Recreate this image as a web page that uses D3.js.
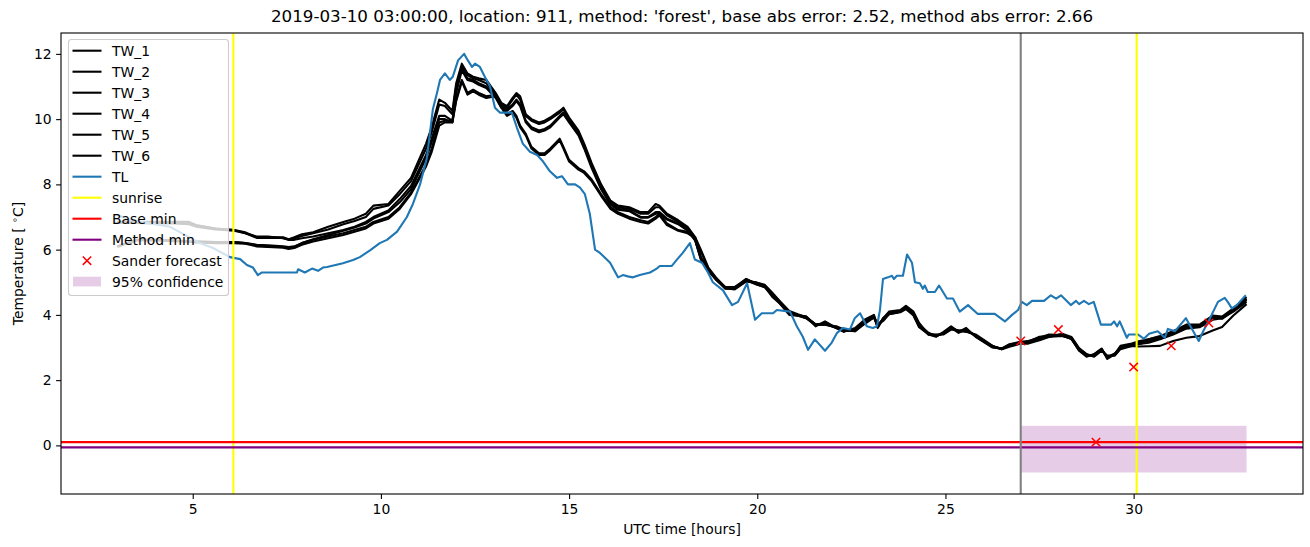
<!DOCTYPE html>
<html><head><meta charset="utf-8">
<script src="https://cdn.jsdelivr.net/npm/d3@7"></script>
<style>body{margin:0;background:#fff} svg text{font-family:"DejaVu Sans",sans-serif;fill:#000}</style>
</head><body><svg id="c" width="1310" height="547"></svg>
<script>
const titleText = "2019-03-10 03:00:00, location: 911, method: 'forest', base abs error: 2.52, method abs error: 2.66";
const xTicks = [5, 10, 15, 20, 25, 30];
const yTicks = [0, 2, 4, 6, 8, 10, 12];

const tlHours = [3.0,3.6,4.4,5.19,5.54,5.99,6.26,6.44,6.6,6.73,6.84,7.77,7.8,7.98,8.17,8.33,8.46,8.57,8.99,9.26,9.44,9.71,9.97,10.16,10.43,10.69,10.85,11.04,11.22,11.38,11.49,11.57,11.7,11.83,11.91,12.05,12.21,12.31,12.42,12.5,12.63,12.76,12.9,13.03,13.16,13.48,13.61,13.77,13.96,14.15,14.31,14.49,14.68,14.81,14.97,15.16,15.29,15.42,15.55,15.69,15.82,16.09,16.3,16.43,16.56,16.7,16.88,17.15,17.33,17.41,17.73,17.87,18.02,18.21,18.34,18.53,18.69,18.82,19.09,19.33,19.49,19.73,19.94,20.12,20.42,20.52,20.87,21.05,21.21,21.35,21.53,21.8,21.98,22.12,22.28,22.46,22.59,22.73,22.91,23.07,23.18,23.26,23.34,23.47,23.58,23.63,23.71,23.87,23.98,24.11,24.19,24.32,24.4,24.45,24.53,24.72,24.83,25.04,25.2,25.38,25.6,25.86,26.31,26.58,26.77,26.93,27.03,27.16,27.3,27.62,27.8,27.94,28.07,28.33,28.47,28.55,28.68,28.81,28.94,29.13,29.4,29.48,29.56,29.63,29.82,29.87,30.11,30.27,30.41,30.64,30.83,30.91,31.1,31.39,31.55,31.73,31.84,32.03,32.24,32.42,32.5,32.61,32.74,32.98];
const tlValues = [7.05,6.85,6.7,6.2,6.05,5.77,5.71,5.53,5.45,5.22,5.3,5.3,5.4,5.3,5.42,5.35,5.45,5.47,5.58,5.68,5.77,5.98,6.2,6.3,6.55,7.0,7.4,8.0,8.8,10.3,10.8,11.2,11.4,11.2,11.3,11.8,12.0,11.8,11.6,11.7,11.6,11.3,11.0,10.35,10.2,10.2,9.75,9.25,9.0,8.9,8.7,8.4,8.2,8.25,8.0,8.0,7.9,7.7,7.1,6.0,5.9,5.6,5.15,5.22,5.18,5.15,5.22,5.3,5.42,5.5,5.5,5.7,5.9,6.2,5.7,5.6,5.3,5.0,4.75,4.3,4.4,4.97,3.85,4.05,4.05,4.15,4.1,3.65,3.33,2.93,3.25,2.9,3.15,3.45,3.6,3.55,3.9,4.05,3.65,3.6,3.65,4.15,5.1,5.15,5.2,5.1,5.2,5.2,5.85,5.6,5.0,4.97,4.8,4.9,4.7,4.7,4.9,4.5,4.5,4.1,4.3,4.03,4.03,3.8,4.0,4.15,4.4,4.3,4.43,4.43,4.6,4.5,4.6,4.3,4.43,4.33,4.43,4.33,4.4,3.7,3.7,3.8,3.65,3.8,3.3,3.4,3.4,3.27,3.42,3.5,3.3,3.57,3.5,3.9,3.57,3.2,3.48,3.9,4.4,4.52,4.4,4.2,4.3,4.6];

const twHours = [3.0,3.5,4.0,4.5,4.9,5.1,5.6,6.1,6.4,6.7,7.0,7.4,7.55,7.7,7.9,8.2,8.6,9.0,9.3,9.6,9.8,10.2,10.5,10.8,11.2,11.35,11.55,11.7,11.9,12.0,12.15,12.3,12.45,12.6,12.8,13.05,13.2,13.35,13.5,13.6,13.7,13.85,14.0,14.2,14.35,14.5,14.75,14.85,15.0,15.25,15.4,15.6,15.85,16.1,16.3,16.6,16.9,17.1,17.3,17.4,17.6,17.9,18.15,18.35,18.5,18.7,18.9,19.15,19.4,19.7,19.95,20.2,20.4,20.6,20.85,21.3,21.55,21.8,22.1,22.3,22.6,22.85,23.1,23.2,23.35,23.5,23.8,23.95,24.15,24.3,24.55,24.75,24.95,25.15,25.35,25.55,25.8,26.0,26.25,26.5,26.7,27.0,27.2,27.5,27.75,28.1,28.35,28.55,28.75,28.95,29.15,29.3,29.5,29.65,29.95,30.1,30.4,30.7,31.05,31.4,31.75,32.1,32.35,32.65,33.0];
const tw1 = [6.85,6.85,6.85,6.85,6.85,6.75,6.65,6.6,6.53,6.38,6.38,6.38,6.32,6.38,6.47,6.53,6.7,6.85,6.95,7.1,7.35,7.4,7.8,8.2,9.25,9.75,10.6,10.5,10.25,11.1,11.7,11.4,11.3,11.25,11.2,10.8,10.5,10.4,10.65,10.8,10.7,10.15,10.0,9.9,9.95,10.05,10.25,10.35,10.05,9.65,9.25,8.65,8.0,7.5,7.35,7.3,7.15,7.15,7.4,7.35,7.1,6.9,6.7,6.38,5.77,5.4,5.13,4.83,4.85,5.1,4.97,4.86,4.55,4.35,4.0,3.95,3.65,3.8,3.6,3.48,3.6,3.85,4.0,3.6,3.9,4.1,4.15,4.28,4.1,3.75,3.4,3.33,3.48,3.65,3.48,3.6,3.33,3.18,3.0,2.97,3.1,3.18,3.18,3.33,3.36,3.36,3.27,2.9,2.72,2.8,2.97,2.65,2.8,3.05,3.12,3.18,3.25,3.33,3.48,3.65,3.65,3.95,3.88,4.12,4.48];
const tw2 = [6.85,6.85,6.82,6.82,6.8,6.75,6.65,6.6,6.5,6.4,6.4,6.35,6.3,6.35,6.42,6.5,6.62,6.78,6.88,7.0,7.25,7.35,7.7,8.1,9.1,9.6,10.45,10.4,10.15,11.0,11.6,11.35,11.25,11.2,11.1,10.75,10.45,10.35,10.6,10.75,10.6,10.1,9.95,9.85,9.9,10.0,10.2,10.3,10.0,9.6,9.2,8.6,7.95,7.45,7.3,7.25,7.1,7.1,7.3,7.3,7.05,6.85,6.65,6.3,5.75,5.38,5.1,4.85,4.85,5.05,4.95,4.85,4.6,4.35,4.05,3.95,3.7,3.75,3.6,3.5,3.55,3.8,3.95,3.65,3.9,4.05,4.1,4.22,4.05,3.7,3.45,3.35,3.45,3.6,3.45,3.55,3.35,3.2,3.02,2.95,3.08,3.15,3.2,3.3,3.4,3.38,3.25,2.92,2.75,2.78,2.95,2.7,2.82,3.0,3.1,3.15,3.25,3.35,3.5,3.7,3.7,3.98,3.95,4.2,4.55];
const tw3 = [6.82,6.82,6.8,6.8,6.78,6.7,6.62,6.58,6.5,6.36,6.36,6.36,6.3,6.3,6.35,6.4,6.5,6.6,6.7,6.85,7.0,7.2,7.55,7.95,8.9,9.4,10.1,10.1,9.95,10.9,11.55,11.25,11.2,11.1,11.0,10.7,10.4,10.3,10.45,10.6,10.45,9.95,9.75,9.65,9.7,9.8,10.1,10.2,9.95,9.55,9.15,8.55,7.9,7.4,7.25,7.2,7.0,7.0,7.15,7.15,6.95,6.8,6.6,6.3,5.72,5.35,5.1,4.8,4.8,5.05,5.0,4.9,4.65,4.4,4.1,3.9,3.7,3.72,3.62,3.52,3.5,3.75,3.95,3.7,3.85,4.05,4.1,4.2,4.0,3.65,3.42,3.38,3.42,3.58,3.5,3.5,3.38,3.22,3.05,2.95,3.05,3.15,3.15,3.25,3.35,3.4,3.3,2.95,2.78,2.75,2.92,2.72,2.78,2.98,3.08,3.12,3.2,3.3,3.45,3.62,3.68,3.9,3.9,4.15,4.45];
const tw4 = [6.1,6.3,6.3,6.28,6.25,6.25,6.23,6.23,6.2,6.15,6.13,6.1,6.08,6.1,6.2,6.32,6.45,6.58,6.68,6.8,6.95,7.15,7.45,7.85,8.8,9.3,10.0,10.0,9.9,10.8,11.5,11.2,11.15,11.05,10.95,10.65,10.35,10.25,10.4,10.55,10.4,9.9,9.7,9.6,9.65,9.75,10.05,10.15,9.9,9.5,9.1,8.5,7.85,7.38,7.22,7.18,6.98,6.98,7.1,7.12,6.92,6.78,6.58,6.28,5.7,5.35,5.08,4.82,4.78,5.02,5.0,4.92,4.68,4.42,4.12,3.92,3.72,3.7,3.65,3.55,3.5,3.72,3.92,3.72,3.82,4.02,4.08,4.18,3.98,3.62,3.4,3.4,3.4,3.55,3.52,3.48,3.4,3.25,3.05,2.95,3.02,3.12,3.12,3.22,3.32,3.42,3.32,2.98,2.8,2.72,2.9,2.75,2.75,2.95,3.05,3.1,3.18,3.28,3.42,3.6,3.66,3.88,3.92,4.18,4.5];
const tw5 = [6.08,6.3,6.3,6.28,6.25,6.25,6.23,6.23,6.2,6.13,6.1,6.08,6.05,6.08,6.2,6.3,6.4,6.5,6.6,6.7,6.85,7.0,7.3,7.75,8.6,9.1,9.9,9.95,9.95,10.6,11.2,10.8,10.9,10.8,10.7,10.75,10.4,10.15,10.25,10.1,9.8,9.55,9.15,8.95,8.95,9.1,9.4,9.15,8.75,8.5,8.4,8.15,7.7,7.3,7.15,7.0,6.9,6.85,7.0,7.1,6.8,6.6,6.55,6.38,6.0,5.45,5.15,4.85,4.8,5.1,4.95,4.85,4.6,4.38,4.05,3.9,3.68,3.72,3.6,3.5,3.55,3.8,3.95,3.62,3.9,4.05,4.12,4.22,4.05,3.7,3.42,3.35,3.45,3.6,3.5,3.55,3.35,3.2,3.02,2.97,3.08,3.15,3.18,3.3,3.35,3.35,3.28,2.92,2.75,2.78,2.95,2.68,2.8,3.0,3.05,3.03,3.04,3.05,3.2,3.3,3.35,3.52,3.63,3.98,4.33];
const tw6 = [6.1,6.28,6.28,6.26,6.24,6.22,6.2,6.2,6.18,6.1,6.08,6.06,6.02,6.05,6.15,6.25,6.35,6.45,6.55,6.65,6.8,6.95,7.25,7.7,8.55,9.0,9.8,9.9,9.9,10.55,11.15,10.75,10.85,10.75,10.65,10.7,10.35,10.1,10.2,10.05,9.75,9.5,9.1,8.9,8.9,9.05,9.35,9.1,8.7,8.45,8.35,8.1,7.65,7.25,7.1,6.95,6.85,6.8,6.95,7.05,6.75,6.58,6.5,6.35,5.95,5.42,5.12,4.82,4.82,5.08,4.98,4.88,4.62,4.4,4.08,3.92,3.7,3.7,3.62,3.52,3.52,3.78,3.92,3.65,3.88,4.02,4.1,4.2,4.02,3.68,3.4,3.36,3.42,3.58,3.52,3.52,3.38,3.22,3.04,2.96,3.06,3.14,3.16,3.28,3.33,3.36,3.3,2.95,2.78,2.76,2.93,2.7,2.78,2.98,3.08,3.1,3.15,3.25,3.4,3.58,3.62,3.85,3.9,4.1,4.4];

const sanderHours = [27, 28, 29, 30, 31, 32];
const sanderValues = [3.2, 3.55, 0.1, 2.4, 3.05, 3.75];
const sunriseHours = [6.08, 30.08];
const baseMin = 0.1;
const methodMin = -0.06;
const forecastStart = 27;
const confStart = 27, confEnd = 33, confLow = -0.83, confHigh = 0.6;
const legendLabels = ["TW_1","TW_2","TW_3","TW_4","TW_5","TW_6","TL","sunrise","Base min","Method min","Sander forecast","95% confidence"];

const svg = d3.select("#c");
const L = 61, R = 1303, T = 33, B = 494;
const x = d3.scaleLinear().domain([1.5, 34.5]).range([L, R]);
const y = d3.scaleLinear().domain([-1.49, 12.64]).range([B, T]);

svg.append("defs").append("clipPath").attr("id","clip").append("rect")
  .attr("x", L).attr("y", T).attr("width", R-L).attr("height", B-T);
const plot = svg.append("g").attr("clip-path","url(#clip)");

// confidence band
plot.append("rect").attr("x", x(confStart)).attr("width", x(confEnd)-x(confStart))
  .attr("y", y(confHigh)).attr("height", y(confLow)-y(confHigh))
  .attr("fill","purple").attr("fill-opacity",0.2);

const line = d3.line().x(d=>x(d[0])).y(d=>y(d[1]));
[tw1,tw2,tw3,tw4,tw5,tw6].forEach(vals=>{
  plot.append("path").datum(twHours.map((h,i)=>[h, vals[i]])).attr("d", line)
    .attr("fill","none").attr("stroke","black").attr("stroke-width",2.1).attr("stroke-linejoin","round");
});
plot.append("path").datum(tlHours.map((h,i)=>[h, tlValues[i]])).attr("d", line)
  .attr("fill","none").attr("stroke","#1f77b4").attr("stroke-width",2.1).attr("stroke-linejoin","round");

sunriseHours.forEach(h=>{
  plot.append("line").attr("x1",x(h)).attr("x2",x(h)).attr("y1",T).attr("y2",B)
    .attr("stroke","yellow").attr("stroke-width",2.1);
});
plot.append("line").attr("x1",L).attr("x2",R).attr("y1",y(baseMin)).attr("y2",y(baseMin)).attr("stroke","red").attr("stroke-width",2.1);
plot.append("line").attr("x1",L).attr("x2",R).attr("y1",y(methodMin)).attr("y2",y(methodMin)).attr("stroke","purple").attr("stroke-width",2.1);
plot.append("line").attr("x1",x(forecastStart)).attr("x2",x(forecastStart)).attr("y1",T).attr("y2",B).attr("stroke","gray").attr("stroke-width",2.1);

const xMark = "M-4.2,-4.2L4.2,4.2M4.2,-4.2L-4.2,4.2";
plot.selectAll(".sf").data(sanderHours).enter().append("path")
  .attr("transform",(h,i)=>`translate(${x(h)},${y(sanderValues[i])})`)
  .attr("d", xMark).attr("stroke","red").attr("stroke-width",1.5).attr("fill","none");

// axes
const xAxis = svg.append("g").attr("transform",`translate(0,${B})`)
  .call(d3.axisBottom(x).tickValues(xTicks).tickSize(4.9).tickPadding(5.5).tickFormat(d3.format("d")));
const yAxis = svg.append("g").attr("transform",`translate(${L},0)`)
  .call(d3.axisLeft(y).tickValues(yTicks).tickSize(4.9).tickPadding(4.5).tickFormat(d3.format("d")));
[xAxis,yAxis].forEach(a=>{
  a.select(".domain").remove();
  a.selectAll(".tick line").attr("stroke","black").attr("stroke-width",1.1);
  a.selectAll(".tick text").attr("font-size","13.9px").attr("font-family","DejaVu Sans").attr("fill","black");
});
svg.append("rect").attr("x",L).attr("y",T).attr("width",R-L).attr("height",B-T)
  .attr("fill","none").attr("stroke","black").attr("stroke-width",1.1);

svg.append("text").attr("x",(L+R)/2).attr("y",22).attr("text-anchor","middle").attr("font-size","16.7px").text(titleText);
svg.append("text").attr("x",(L+R)/2).attr("y",534).attr("text-anchor","middle").attr("font-size","13.9px").text("UTC time [hours]");
const yl = svg.append("text").attr("transform",`translate(23,${(T+B)/2}) rotate(-90)`).attr("text-anchor","middle").attr("font-size","13.9px");
yl.append("tspan").text("Temperature [ ");
yl.append("tspan").attr("dy",-5).attr("font-size","9.7px").text("∘");
yl.append("tspan").attr("dy",5).text("C]");

// legend
const lg = svg.append("g");
lg.append("rect").attr("x",68.5).attr("y",39.5).attr("width",160).attr("height",256).attr("rx",3)
  .attr("fill","white").attr("fill-opacity",0.8).attr("stroke","#cccccc").attr("stroke-width",1.1);
const legColors = ["black","black","black","black","black","black","#1f77b4","yellow","red","purple"];
legendLabels.forEach((lab,i)=>{
  const cy = 50.7 + i*21;
  if (i < 10) {
    lg.append("line").attr("x1",72.5).attr("x2",101.5).attr("y1",cy).attr("y2",cy)
      .attr("stroke",legColors[i]).attr("stroke-width",2.1);
  } else if (i === 10) {
    lg.append("path").attr("transform",`translate(87,${cy})`).attr("d",xMark).attr("stroke","red").attr("stroke-width",1.5);
  } else {
    lg.append("rect").attr("x",73).attr("y",cy-5).attr("width",28).attr("height",9.7).attr("fill","purple").attr("fill-opacity",0.2);
  }
  lg.append("text").attr("x",112).attr("y",cy+5).attr("font-size","13.9px").text(lab);
});
</script></body></html>
